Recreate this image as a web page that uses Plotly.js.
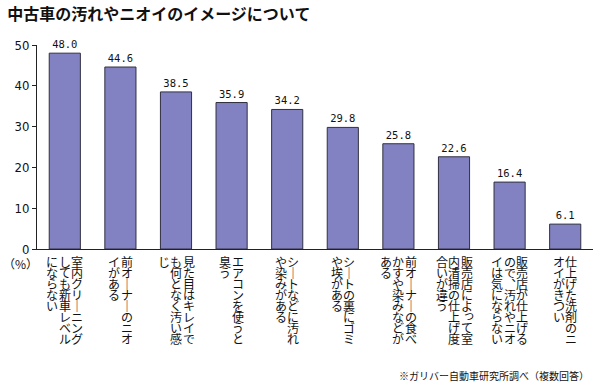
<!DOCTYPE html>
<html>
<head>
<meta charset="utf-8">
<script src="https://cdn.plot.ly/plotly-3.0.1.min.js"></script>
<style>
  html, body { margin: 0; padding: 0; background: #fff; }
  #chart { width: 600px; height: 383px; outline: 1px solid #777; outline-offset: -1px; }
</style>
</head>
<body>
<div id="chart"></div>
<script>
// Data
const categories = [
  "室内クリーニングしても新車レベルにならない",
  "前オーナーのニオイがある",
  "見た目はキレイでも何となく汚い感じ",
  "エアコンを使うと臭う",
  "シートなどに汚れや染みがある",
  "シートの裏にゴミや埃がある",
  "前オーナーの食べかすや染みなどがある",
  "販売店によって室内清掃の仕上げ度合いが違う",
  "販売店が仕上げるので、汚れやニオイは気にならない",
  "仕上げた洗剤のニオイがきつい"
];
// vertical columns of each category label, right-to-left reading order
const labelColumns = [
  ["室内クリーニング", "しても新車レベル", "にならない"],
  ["前オーナーのニオ", "イがある"],
  ["見た目はキレイで", "も何となく汚い感", "じ"],
  ["エアコンを使うと", "臭う"],
  ["シートなどに汚れ", "や染みがある"],
  ["シートの裏にゴミ", "や埃がある"],
  ["前オーナーの食べ", "かすや染みなどが", "ある"],
  ["販売店によって室", "内清掃の仕上げ度", "合いが違う"],
  ["販売店が仕上げる", "ので、汚れやニオ", "イは気にならない"],
  ["仕上げた洗剤のニ", "オイがきつい"]
];
const values = [48.0, 44.6, 38.5, 35.9, 34.2, 29.8, 25.8, 22.6, 16.4, 6.1];
const yTicks = [0, 10, 20, 30, 40, 50];
const titleText = "中古車の汚れやニオイのイメージについて";
const unitText = "（%）";
const noteText = "※ガリバー自動車研究所調べ（複数回答）";

const jpFont = "'Noto Sans CJK JP', 'Noto Sans', sans-serif";
const verticalForms = { "ー": "｜", "、": "︑", "。": "︒" };
const smallKana = "っゃゅょぁぃぅぇぉッャュョァィゥェォ";

const xIdx = categories.map((_, i) => i);

const trace = {
  type: "bar",
  x: xIdx,
  y: values,
  width: 0.56,
  marker: { color: "#8282c2", line: { color: "#303040", width: 1 } },
  text: values.map(v => v.toFixed(1)),
  textposition: "outside",
  cliponaxis: false,
  textfont: { family: "'DejaVu Sans Mono', 'Liberation Mono', monospace", size: 10.5, color: "#111" },
  hoverinfo: "skip"
};

const annotations = [];
const colPitch = 12.5;
const rowPitch = 11.1;
labelColumns.forEach((cols, i) => {
  const n = cols.length;
  cols.forEach((col, c) => {
    const xs = ((n - 1) / 2 - c) * colPitch;
    Array.from(col).forEach((ch, r) => {
      const small = smallKana.includes(ch);
      annotations.push({
        xref: "x", yref: "y", x: i, y: 0,
        xanchor: "center", yanchor: "middle",
        xshift: xs + (small ? 2 : 0),
        yshift: -(12 + r * rowPitch) + (small ? 2 : 0),
        text: verticalForms[ch] || ch,
        showarrow: false,
        borderpad: 0,
        font: { family: jpFont, size: 12, color: "#111" }
      });
    });
  });
});
annotations.push({
  xref: "paper", yref: "paper", x: 0, y: 0,
  xanchor: "center", yanchor: "middle", xshift: -17, yshift: -14,
  text: unitText, showarrow: false,
  font: { family: jpFont, size: 12, color: "#111" }
});
annotations.push({
  xref: "paper", yref: "paper", x: 1, y: 0,
  xanchor: "right", yanchor: "middle", xshift: -2, yshift: -126,
  text: noteText, showarrow: false,
  font: { family: jpFont, size: 10, color: "#111" }
});

const layout = {
  width: 600, height: 383,
  margin: { l: 37, r: 7, t: 45, b: 134, pad: 0 },
  paper_bgcolor: "#fff", plot_bgcolor: "#fff",
  showlegend: false,
  title: {
    text: titleText,
    xref: "container", yref: "container",
    x: 0.012, xanchor: "left", y: 0.962, yanchor: "middle",
    font: { family: jpFont, size: 16, color: "#111", weight: "bold" }
  },
  xaxis: {
    range: [-0.5, 9.5],
    showline: true, linecolor: "#222", linewidth: 1,
    showticklabels: false, ticks: "", showgrid: false, zeroline: false,
    fixedrange: true
  },
  yaxis: {
    range: [0, 50],
    tickvals: yTicks,
    ticktext: yTicks.map(String),
    showline: true, linecolor: "#222", linewidth: 1,
    ticks: "outside", ticklen: 4, tickcolor: "#222",
    showgrid: false, zeroline: false,
    tickfont: { family: "'Liberation Sans Narrow', 'DejaVu Sans Condensed', sans-serif", size: 13, color: "#111" },
    fixedrange: true
  },
  annotations: annotations
};

Plotly.newPlot("chart", [trace], layout, { displayModeBar: false, staticPlot: true });
</script>
</body>
</html>
